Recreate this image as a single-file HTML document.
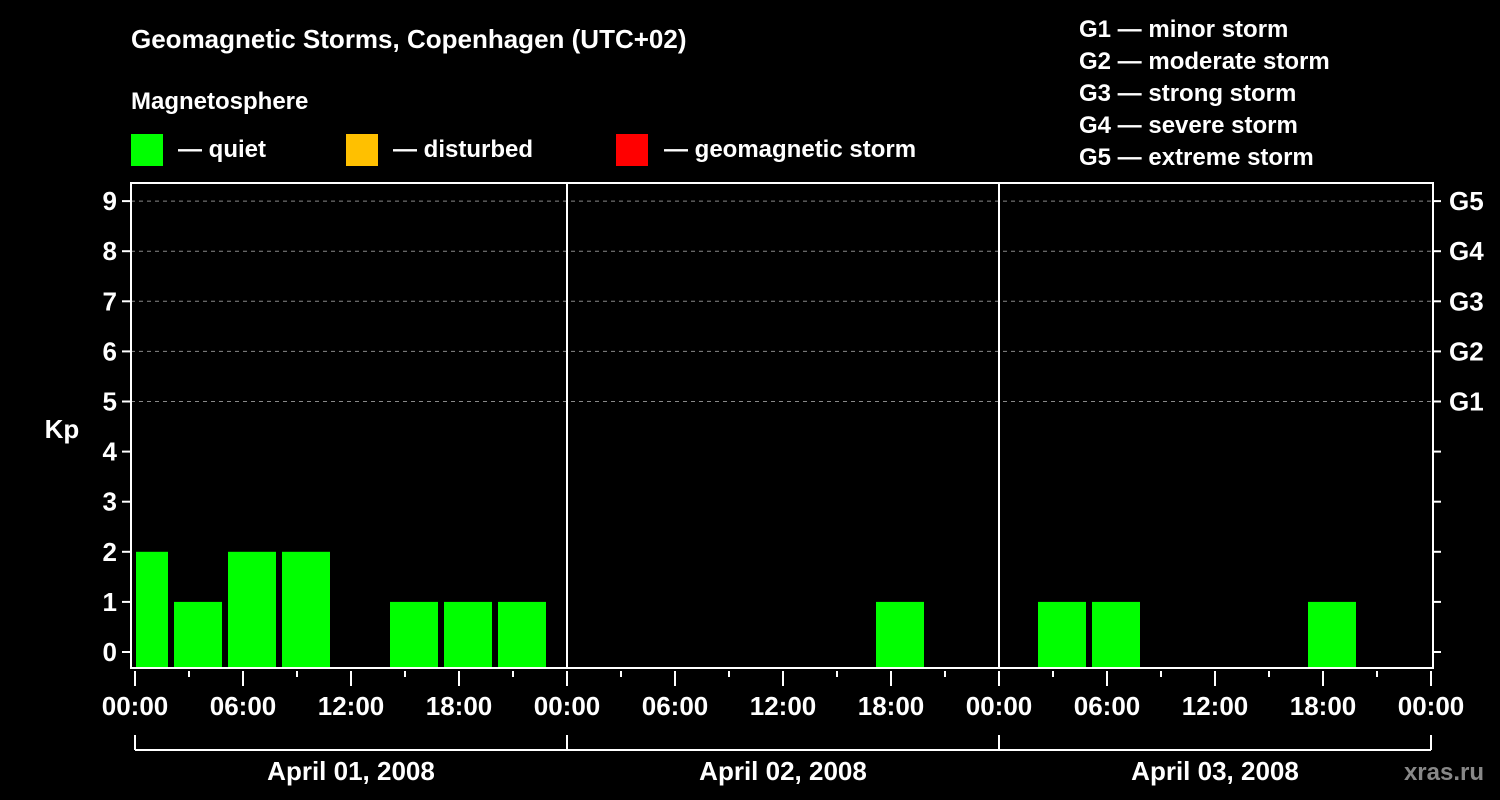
<!DOCTYPE html>
<html><head><meta charset="utf-8"><style>
html,body{margin:0;padding:0;background:#000;width:1500px;height:800px;overflow:hidden}
svg text{font-family:"Liberation Sans",Arial,sans-serif;font-weight:bold;fill:#fff}
</style></head><body>
<svg id="chart" width="1500" height="800" xmlns="http://www.w3.org/2000/svg">
<rect width="1500" height="800" fill="#000"/>
<text x="131" y="48" font-size="26">Geomagnetic Storms, Copenhagen (UTC+02)</text>
<text x="131" y="109" font-size="24">Magnetosphere</text>
<g><rect x="131" y="134" width="32" height="32" fill="#00ff00"/><text x="178" y="157" font-size="24">— quiet</text></g>
<g><rect x="346" y="134" width="32" height="32" fill="#ffc000"/><text x="393" y="157" font-size="24">— disturbed</text></g>
<g><rect x="616" y="134" width="32" height="32" fill="#ff0000"/><text x="664" y="157" font-size="24">— geomagnetic storm</text></g>
<g font-size="24">
<text x="1079" y="37">G1 — minor storm</text>
<text x="1079" y="69">G2 — moderate storm</text>
<text x="1079" y="101">G3 — strong storm</text>
<text x="1079" y="133">G4 — severe storm</text>
<text x="1079" y="165">G5 — extreme storm</text>
</g>
<text x="62" y="438" font-size="26" text-anchor="middle">Kp</text>
<text x="1484" y="780" font-size="24" text-anchor="end" fill="#888" style="fill:#888">xras.ru</text>
<g id="grid"></g><g id="bars"></g><g id="axes"></g>
</svg>
<script>
const kpValues=[2,1,2,2,0,1,1,1, 0,0,0,0,0,0,1,0, 0,1,1,0,0,0,1,0];
const dayLabels=["April 01, 2008","April 02, 2008","April 03, 2008"];
const timeLabels=["00:00","06:00","12:00","18:00"];
const gLabels=["G1","G2","G3","G4","G5"];
const yTicks=[0,1,2,3,4,5,6,7,8,9];
const NS="http://www.w3.org/2000/svg";
const L=131,R=1433,T=183,B=668,X0=135,DAY=432;
const y=v=>652-v*50.1;
const x=h=>X0+h*DAY/24;
function mk(tag,attrs,parent){const e=document.createElementNS(NS,tag);for(const k in attrs)e.setAttribute(k,attrs[k]);parent.appendChild(e);return e;}
const grid=document.getElementById('grid'),bars=document.getElementById('bars'),axes=document.getElementById('axes');
for(let v=5;v<=9;v++){const l=mk('line',{x1:L,x2:R,y1:y(v),y2:y(v),stroke:'#888','stroke-dasharray':'4,4','stroke-width':1},grid);

}
kpValues.forEach((v,i)=>{if(v<=0)return;
const x1=Math.max(x(i*3)-15,L+5),x2=x(i*3)-15+48;
const col=v>=5?'#ff0000':(v>=4?'#ffc000':'#00ff00');
const r=mk('rect',{x:x1,y:y(v),width:x2-x1,height:B-y(v),fill:col},bars);

});
mk('rect',{x:L,y:T,width:R-L,height:B-T,fill:'none',stroke:'#fff','stroke-width':2},axes);
for(let d=1;d<3;d++)mk('line',{x1:x(d*24),x2:x(d*24),y1:T,y2:B,stroke:'#fff','stroke-width':2},axes);
yTicks.forEach(v=>{mk('line',{x1:L-9,x2:L,y1:y(v),y2:y(v),stroke:'#fff','stroke-width':2},axes);
mk('line',{x1:R,x2:R+8,y1:y(v),y2:y(v),stroke:'#fff','stroke-width':2},axes);
const t=mk('text',{x:L-14,y:y(v)+9,'font-size':26,'text-anchor':'end'},axes);t.textContent=v;

});
gLabels.forEach((g,i)=>{const t=mk('text',{x:1449,y:y(5+i)+9,'font-size':26},axes);t.textContent=g;

});
for(let h=0;h<=72;h+=3){const major=h%6===0;
mk('line',{x1:x(h),x2:x(h),y1:671,y2:major?686:677,stroke:'#fff','stroke-width':2},axes);
if(major){const t=mk('text',{x:x(h),y:715,'font-size':26,'text-anchor':'middle'},axes);t.textContent=timeLabels[(h/6)%4];

}}
mk('line',{x1:x(0),x2:x(72),y1:750,y2:750,stroke:'#fff','stroke-width':2},axes);
for(let d=0;d<=3;d++)mk('line',{x1:x(d*24),x2:x(d*24),y1:735,y2:750,stroke:'#fff','stroke-width':2},axes);
dayLabels.forEach((s,d)=>{const t=mk('text',{x:x(d*24+12),y:780,'font-size':26,'text-anchor':'middle'},axes);t.textContent=s;

});
</script>
</body></html>
